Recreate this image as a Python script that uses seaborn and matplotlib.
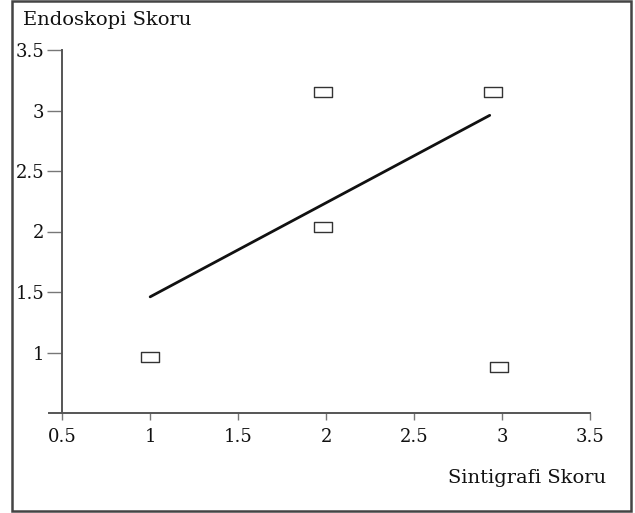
import numpy as np
import pandas as pd
import matplotlib
matplotlib.use("Agg")
import matplotlib.pyplot as plt
import seaborn as sns
from matplotlib.path import Path
from matplotlib.patches import Rectangle

# Observed scores
sintigrafi = [1.0, 1.985, 1.985, 2.95, 2.98]
endoskopi = [0.96, 2.04, 3.15, 3.15, 0.88]

# Fitted line endpoints
fit_x = [1.0, 2.93]
fit_y = [1.46, 2.96]

x_ticks = [0.5, 1.0, 1.5, 2.0, 2.5, 3.0, 3.5]
y_ticks = [1.0, 1.5, 2.0, 2.5, 3.0, 3.5]

sns.set_theme(style="white")
plt.rcParams["font.family"] = ["DejaVu Serif"]

df = pd.DataFrame({"Sintigrafi": sintigrafi, "Endoskopi": endoskopi})
fit_df = pd.DataFrame({"x": fit_x, "y": fit_y})

fig = plt.figure(figsize=(6.35, 5.13), dpi=100)
fig.patch.set_facecolor("white")
ax = fig.add_axes([49 / 635, 100 / 513, 541 / 635, 363 / 513])
ax.set_facecolor("white")

box = Path([[-0.8, -0.5], [0.8, -0.5], [0.8, 0.5], [-0.8, 0.5], [-0.8, -0.5]],
           [Path.MOVETO, Path.LINETO, Path.LINETO, Path.LINETO, Path.CLOSEPOLY])

sns.lineplot(data=fit_df, x="x", y="y", ax=ax, color="#111111", linewidth=2.0)
sns.scatterplot(data=df, x="Sintigrafi", y="Endoskopi", ax=ax, marker=box, s=150,
                facecolor="white", edgecolor="#333333", linewidth=1.0, zorder=3,
                clip_on=False)

ax.set_xlim(0.425, 3.5)
ax.set_ylim(0.5, 3.5)
ax.set_xticks(x_ticks)
ax.set_yticks(y_ticks)
fmt = lambda v: f"{v:g}"
ax.set_xticklabels([fmt(v) for v in x_ticks])
ax.set_yticklabels([fmt(v) for v in y_ticks])
ax.set_xlabel("")
ax.set_ylabel("")

for side in ("top", "right"):
    ax.spines[side].set_visible(False)
ax.spines["left"].set_position(("data", 0.5))
for side in ("left", "bottom"):
    ax.spines[side].set_color("#555555")
    ax.spines[side].set_linewidth(1.4)

ax.tick_params(axis="y", direction="out", length=11, width=1.0, color="#777777",
               pad=2, labelsize=13, labelcolor="#111111", left=True)
ax.tick_params(axis="x", direction="out", length=5, width=1.0, color="#777777",
               pad=6, labelsize=13, labelcolor="#111111", bottom=True)

fig.text(23 / 635, 1 - 20 / 513, "Endoskopi Skoru", ha="left", va="center",
         fontsize=14, color="#111111")
fig.text(606 / 635, 1 - 478 / 513, "Sintigrafi Skoru", ha="right", va="center",
         fontsize=14, color="#111111")

fig.patches.append(Rectangle((12 / 635, 2 / 513), 619 / 635, 510 / 513,
                             transform=fig.transFigure, fill=False,
                             edgecolor="#444444", linewidth=1.8))

fig.savefig("out.png", dpi=100)
